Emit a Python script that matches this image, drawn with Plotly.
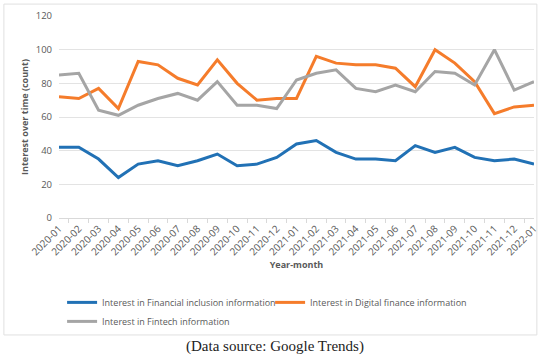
import plotly.graph_objects as go

months = ["2020-01","2020-02","2020-03","2020-04","2020-05","2020-06","2020-07","2020-08",
          "2020-09","2020-10","2020-11","2020-12","2021-01","2021-02","2021-03","2021-04",
          "2021-05","2021-06","2021-07","2021-08","2021-09","2021-10","2021-11","2021-12","2022-01"]
financial_inclusion = [42, 42, 35, 24, 32, 34, 31, 34, 38, 31, 32, 36, 44, 46, 39, 35, 35, 34, 43, 39, 42, 36, 34, 35, 32]
digital_finance = [72, 71, 77, 65, 93, 91, 83, 79, 94, 80, 70, 71, 71, 96, 92, 91, 91, 89, 78, 100, 92, 81, 62, 66, 67]
fintech = [85, 86, 64, 61, 67, 71, 74, 70, 81, 67, 67, 65, 82, 86, 88, 77, 75, 79, 75, 87, 86, 79, 100, 76, 81]

series = [
    ("Interest in Financial inclusion information", financial_inclusion, "#2171B5"),
    ("Interest in Digital finance information", digital_finance, "#F57C2B"),
    ("Interest in Fintech information", fintech, "#A5A5A5"),
]

fig = go.Figure()
for name, vals, col in series:
    fig.add_trace(go.Scatter(x=months, y=vals, mode="lines", name=name,
                             line=dict(color=col, width=3)))

fig.update_layout(
    width=550, height=355,
    margin=dict(l=59, r=16, t=16, b=137, autoexpand=False),
    paper_bgcolor="white", plot_bgcolor="white",
    font=dict(family="Open Sans", size=9, color="#595959"),
    showlegend=True,
    legend=dict(orientation="h", x=0.0065, xanchor="left", y=-0.346, yanchor="top",
                font=dict(size=9, color="#595959"), entrywidth=163, entrywidthmode="pixels",
                tracegroupgap=0, itemwidth=30, bgcolor="rgba(0,0,0,0)"),
    xaxis=dict(type="category", tickangle=-45, showgrid=False, showline=True, automargin=False,
               linecolor="#D9D9D9", ticks="outside", ticklen=4, tickcolor="#D9D9D9",
               tickson="boundaries",
               tickfont=dict(size=10, color="#595959"),
               title=dict(text="<b>Year-month</b>", font=dict(size=9, color="#595959"), standoff=4)),
    yaxis=dict(range=[0, 120], dtick=20, showgrid=True, gridcolor="#E3E3E3", zeroline=False,
               showline=False, automargin=False, ticklabelstandoff=6,
               tickfont=dict(size=9.5, color="#595959"),
               title=dict(text="<b>Interest over time (count)</b>", font=dict(size=9, color="#595959"), standoff=5)),
    shapes=[dict(type="rect", xref="paper", yref="paper", x0=-0.116, x1=1.006, y0=-0.579, y1=1.059,
                 line=dict(color="#E0E0E0", width=1), fillcolor="rgba(0,0,0,0)", layer="below")],
    annotations=[dict(text="(Data source: Google Trends)", xref="paper", yref="paper",
                      x=0.455, y=-0.634, xanchor="center", yanchor="middle", showarrow=False,
                      font=dict(family="Liberation Serif", size=15, color="#222222"))],
)

fig.write_html("out.html", config={"displayModeBar": False},
               post_script="document.body.style.margin='0px';")
